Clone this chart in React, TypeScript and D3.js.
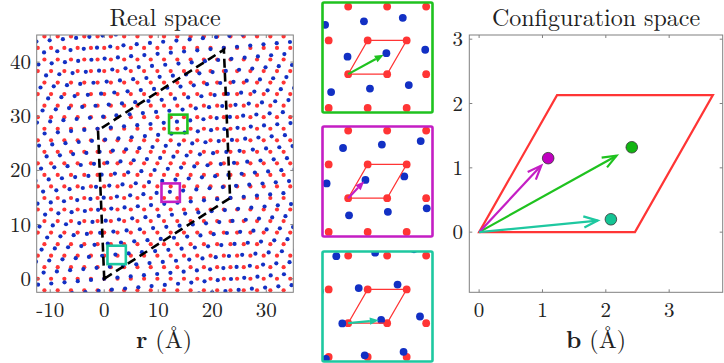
import React from 'react';
import * as d3 from 'd3';

// lattice (graphene-like, Å) and twist
const LATTICE_A = 2.46;
const TWIST_DEG = 5.1;
const basisA1 = [LATTICE_A, 0];
const basisA2 = [LATTICE_A / 2, (LATTICE_A * Math.sqrt(3)) / 2];

// the three sampled regions (green, magenta, teal)
const regionColors = ['#1fc21f', '#c41ec4', '#1ec8a0'];
const dotColors = ['#12b512', '#c000c0', '#14c494'];
const regionX = [13.7, 12.3, 2.3];
const regionY = [28.6, 15.9, 4.4];
const stackingBx = [2.41, 1.09, 2.08];
const stackingBy = [1.32, 1.15, 0.2];

// dashed moire cell corners (Å)
const moireX = [0, 23.3, 22.15, -1.15];
const moireY = [0, 14.9, 42.3, 27.4];

const realTicksX = [-10, 0, 10, 20, 30];
const realTicksY = [0, 10, 20, 30, 40];
const cfgTicksX = [0, 1, 2, 3];
const cfgTicksY = [0, 1, 2, 3];

const FONT = 'Latin Modern Roman';
const RED = '#ff3535';
const BLUE = '#1230c4';
const FRAME = '#808080';

const rot = (p: number[], th: number) => [
  p[0] * Math.cos(th) - p[1] * Math.sin(th),
  p[0] * Math.sin(th) + p[1] * Math.cos(th),
];

function sites(th: number, shift: number[], xmin: number, xmax: number, ymin: number, ymax: number, n: number) {
  const out: number[][] = [];
  for (let i = -n; i <= n; i++) {
    for (let j = -n; j <= n; j++) {
      const p = rot([i * basisA1[0] + j * basisA2[0], i * basisA1[1] + j * basisA2[1]], th);
      const q = [p[0] + shift[0], p[1] + shift[1]];
      if (q[0] >= xmin && q[0] <= xmax && q[1] >= ymin && q[1] <= ymax) out.push(q);
    }
  }
  return out;
}

function ticksFrame(x0: number, x1: number, y0: number, y1: number, xs: number[], ys: number[], len: number) {
  const segs: string[] = [];
  xs.forEach((x) => {
    segs.push(`M${x},${y1}V${y1 - len}`);
    segs.push(`M${x},${y0}V${y0 + len}`);
  });
  ys.forEach((y) => {
    segs.push(`M${x0},${y}H${x0 + len}`);
    segs.push(`M${x1},${y}H${x1 - len}`);
  });
  return segs.join('');
}

function vHead(sx: number, sy: number, tx: number, ty: number, h: number, phi: number) {
  const dx = tx - sx, dy = ty - sy;
  const L = Math.hypot(dx, dy);
  const ux = dx / L, uy = dy / L;
  const arm = (s: number) => {
    const c = Math.cos(s * phi), sn = Math.sin(s * phi);
    const rx = ux * c - uy * sn, ry = ux * sn + uy * c;
    return [tx - h * rx, ty - h * ry];
  };
  const p1 = arm(1), p2 = arm(-1);
  return `M${p1[0]},${p1[1]}L${tx},${ty}L${p2[0]},${p2[1]}`;
}

export default function App() {
  const th = (TWIST_DEG * Math.PI) / 180;

  // real space panel
  const xR = d3.scaleLinear().domain([-12.5, 35]).range([36.7, 293.3]);
  const yR = d3.scaleLinear().domain([-2.5, 45]).range([292.3, 35]);
  const redMain = sites(0, [0, 0], -14, 37, -4, 47, 40);
  const blueMain = sites(th, [0, 0], -14, 37, -4, 47, 40);
  const moirePath = d3.line()(moireX.map((x, i) => [xR(x), yR(moireY[i])]) as [number, number][]) + 'Z';
  const boxHalf = 1.7;

  // configuration space panel
  const xC = d3.scaleLinear().domain([-0.155, 3.845]).range([469.3, 722.7]);
  const yC = d3.scaleLinear().domain([-0.935, 3.065]).range([292.3, 35]);
  const cell = [[0, 0], basisA1, [basisA1[0] + basisA2[0], basisA1[1] + basisA2[1]], basisA2];
  const cellPath = d3.line()(cell.map((p) => [xC(p[0]), yC(p[1])]) as [number, number][]) + 'Z';

  // insets
  const insetTops = [2.5, 126.5, 251.5];
  const insetSize = 110;
  const insetX0 = 322.5;

  const txt = { fontFamily: FONT, fill: '#222' };

  return (
    <svg width={724} height={363} style={{ position: 'absolute', left: 0, top: 0, background: '#fff' }}>
      <defs>
        <clipPath id="clipReal">
          <rect x={36.7} y={35} width={256.6} height={257.3} />
        </clipPath>
        {insetTops.map((t, k) => (
          <clipPath id={`clipInset${k}`} key={k}>
            <rect x={insetX0} y={t} width={insetSize} height={insetSize} />
          </clipPath>
        ))}
      </defs>

      {/* ---------- Real space ---------- */}
      <text x={165} y={26} fontSize={24} textAnchor="middle" style={txt}>Real space</text>
      <g clipPath="url(#clipReal)">
        {redMain.map((p, i) => (
          <circle key={'r' + i} cx={xR(p[0])} cy={yR(p[1])} r={2.1} fill={RED} />
        ))}
        {blueMain.map((p, i) => (
          <circle key={'b' + i} cx={xR(p[0])} cy={yR(p[1])} r={2.1} fill={BLUE} />
        ))}
        <path d={moirePath} fill="none" stroke="#000" strokeWidth={2.6} strokeDasharray="9,5" />
        {regionX.map((x, k) => (
          <rect key={k} x={xR(x - boxHalf)} y={yR(regionY[k] + boxHalf)} width={xR(x + boxHalf) - xR(x - boxHalf)}
            height={yR(regionY[k] - boxHalf) - yR(regionY[k] + boxHalf)} fill="none" stroke={regionColors[k]} strokeWidth={2.6} />
        ))}
      </g>
      <rect x={36.7} y={35} width={256.6} height={257.3} fill="none" stroke={FRAME} strokeWidth={1} />
      <path d={ticksFrame(36.7, 293.3, 35, 292.3, realTicksX.map(xR), realTicksY.map(yR), 3)} stroke={FRAME} strokeWidth={1} />
      {realTicksX.map((t) => (
        <text key={t} x={xR(t)} y={317} fontSize={21} textAnchor="middle" style={txt}>{t < 0 ? '-' + Math.abs(t) : t}</text>
      ))}
      {realTicksY.map((t) => (
        <text key={t} x={31} y={yR(t) + 7} fontSize={21} textAnchor="end" style={txt}>{t}</text>
      ))}
      <text x={164} y={348} fontSize={24} textAnchor="middle" style={txt}>
        <tspan fontWeight="bold">r</tspan> (Å)
      </text>

      {/* ---------- Insets ---------- */}
      {insetTops.map((top, k) => {
        const xI = d3.scaleLinear().domain([-1.62, 5.32]).range([insetX0, insetX0 + insetSize]);
        const yI = d3.scaleLinear().domain([-2.42, 4.52]).range([top + insetSize, top]);
        const b = [stackingBx[k], stackingBy[k]];
        const reds = sites(0, [0, 0], -2.5, 6.2, -3.3, 5.4, 6);
        const blues = sites(th, b, -2.5, 6.2, -3.3, 5.4, 8);
        const uc = d3.line()(cell.map((p) => [xI(p[0]), yI(p[1])]) as [number, number][]) + 'Z';
        const sx = xI(0), sy = yI(0);
        const tx = xI(0.93 * b[0]), ty = yI(0.93 * b[1]);
        const L = Math.hypot(tx - sx, ty - sy);
        const ux = (tx - sx) / L, uy = (ty - sy) / L;
        const hl = 9, hw = 3.6;
        const bx = tx - hl * ux, by = ty - hl * uy;
        const head = `M${tx},${ty}L${bx - hw * uy},${by + hw * ux}L${bx + hw * uy},${by - hw * ux}Z`;
        return (
          <g key={k}>
            <g clipPath={`url(#clipInset${k})`}>
              {reds.map((p, i) => (
                <circle key={'r' + i} cx={xI(p[0])} cy={yI(p[1])} r={3.9} fill={RED} />
              ))}
              {blues.map((p, i) => (
                <circle key={'b' + i} cx={xI(p[0])} cy={yI(p[1])} r={3.9} fill={BLUE} />
              ))}
              <path d={uc} fill="none" stroke={RED} strokeWidth={1.2} />
              <line x1={sx} y1={sy} x2={bx} y2={by} stroke={regionColors[k]} strokeWidth={2.2} />
              <path d={head} fill={regionColors[k]} />
            </g>
            <rect x={insetX0} y={top} width={insetSize} height={insetSize} fill="none" stroke={regionColors[k]} strokeWidth={2.6} rx={1.5} />
          </g>
        );
      })}

      {/* ---------- Configuration space ---------- */}
      <text x={596} y={26} fontSize={24} textAnchor="middle" style={txt}>Configuration space</text>
      <rect x={469.3} y={35} width={253.4} height={257.3} fill="none" stroke={FRAME} strokeWidth={1} />
      <path d={ticksFrame(469.3, 722.7, 35, 292.3, cfgTicksX.map(xC), cfgTicksY.map(yC), 3)} stroke={FRAME} strokeWidth={1} />
      <path d={cellPath} fill="none" stroke={RED} strokeWidth={2.2} strokeLinejoin="miter" />
      {stackingBx.map((bxv, k) => {
        const byv = stackingBy[k];
        const sx = xC(0), sy = yC(0);
        const tx = xC(0.9 * bxv), ty = yC(0.9 * byv);
        return (
          <g key={k}>
            <line x1={sx} y1={sy} x2={tx} y2={ty} stroke={regionColors[k]} strokeWidth={2.2} />
            <path d={vHead(sx, sy, tx, ty, 15, 0.38)} fill="none" stroke={regionColors[k]} strokeWidth={2.2} />
          </g>
        );
      })}
      {stackingBx.map((bxv, k) => (
        <circle key={k} cx={xC(bxv)} cy={yC(stackingBy[k])} r={5.8} fill={dotColors[k]} stroke="#333" strokeWidth={0.8} />
      ))}
      {cfgTicksX.map((t) => (
        <text key={t} x={xC(t)} y={317} fontSize={21} textAnchor="middle" style={txt}>{t}</text>
      ))}
      {cfgTicksY.map((t) => (
        <text key={t} x={463} y={yC(t) + 7} fontSize={21} textAnchor="end" style={txt}>{t}</text>
      ))}
      <text x={596} y={348} fontSize={24} textAnchor="middle" style={txt}>
        <tspan fontWeight="bold">b</tspan> (Å)
      </text>
    </svg>
  );
}
